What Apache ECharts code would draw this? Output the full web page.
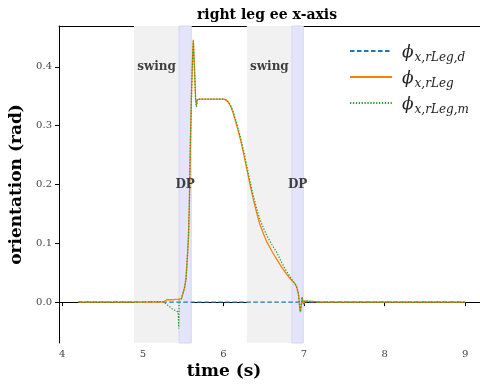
<!DOCTYPE html>
<html><head><meta charset="utf-8">
<script src="https://cdn.jsdelivr.net/npm/echarts@6/dist/echarts.min.js"></script>
<style>html,body{margin:0;padding:0;background:#fff}#c{width:480px;height:389px}</style>
</head><body><div id="c"></div>
<script>
// time stamps (s)
const time = [4.2, 5.0, 5.1, 5.25, 5.3, 5.36, 5.44, 5.445, 5.45, 5.48, 5.5, 5.52, 5.535, 5.55, 5.565, 5.577, 5.59, 5.605, 5.618, 5.626, 5.64, 5.655, 5.665, 5.675, 5.7, 5.8, 6.0, 6.03, 6.06, 6.09, 6.12, 6.15, 6.18, 6.21, 6.25, 6.29, 6.33, 6.37, 6.41, 6.45, 6.5, 6.54, 6.6, 6.66, 6.72, 6.78, 6.84, 6.89, 6.91, 6.93, 6.945, 6.955, 6.965, 6.975, 6.985, 6.995, 7.01, 7.03, 7.2, 8.0, 9.0];
// desired orientation
const desired = time.map(() => 0);
// actual orientation
const actual = [0, 0, 0, 0, 0.004, 0.004, 0.005, 0.005, 0.005, 0.006, 0.016, 0.026, 0.039, 0.07, 0.107, 0.164, 0.27, 0.36, 0.42, 0.446, 0.40, 0.345, 0.335, 0.344, 0.345, 0.345, 0.345, 0.344, 0.34, 0.333, 0.322, 0.308, 0.293, 0.277, 0.253, 0.226, 0.2, 0.175, 0.153, 0.133, 0.115, 0.102, 0.087, 0.073, 0.06, 0.048, 0.038, 0.031, 0.025, 0.015, -0.008, -0.017, -0.006, 0.008, 0.002, -0.004, 0.002, 0, 0, 0, 0];
// measured orientation
const measured = [0, 0, 0.001, 0.001, -0.004, -0.011, -0.017, -0.045, 0.004, 0.006, 0.016, 0.026, 0.039, 0.07, 0.107, 0.164, 0.27, 0.36, 0.42, 0.444, 0.40, 0.345, 0.332, 0.344, 0.345, 0.345, 0.345, 0.344, 0.341, 0.334, 0.324, 0.311, 0.297, 0.281, 0.258, 0.231, 0.205, 0.181, 0.16, 0.141, 0.125, 0.113, 0.098, 0.085, 0.068, 0.053, 0.04, 0.031, 0.025, 0.014, -0.006, -0.016, -0.004, 0.009, 0.001, -0.003, 0.002, 0, 0, 0, 0];
// phases: [start, end]
const swingPhases = [[4.89, 5.45], [6.29, 6.85]];
const dpPhases = [[5.45, 5.6], [6.85, 6.99]];
// phase labels: [x, y, text]
const phaseLabels = [[5.17, 0.4, 'swing'], [6.57, 0.4, 'swing'], [5.525, 0.2, 'DP'], [6.92, 0.2, 'DP']];
const xTicks = [4, 5, 6, 7, 8, 9];
const yTicks = [0, 0.1, 0.2, 0.3, 0.4];

const zip = (a, b) => a.map((v, i) => [v, b[i]]);
const serif = 'DejaVu Serif';
const legendNames = {
  d: '{a|ϕ}{b|x,rLeg,d}',
  a: '{a|ϕ}{b|x,rLeg}',
  m: '{a|ϕ}{b|x,rLeg,m}'
};
const XMIN = 3.96, XMAX = 9.183;

const chart = echarts.init(document.getElementById('c'));
chart.setOption({
  animation: false,
  title: {
    text: 'right leg ee x-axis', left: 262, top: 3, textAlign: 'center',
    textStyle: { fontFamily: serif, fontWeight: 'bold', fontSize: 14, color: '#000' }
  },
  grid: { left: 59, right: 0, top: 26, bottom: 46 },
  legend: {
    orient: 'vertical', left: 344, top: 39, itemWidth: 42, itemHeight: 14, itemGap: 6,
    data: ['d', 'a', 'm'],
    itemStyle: { opacity: 0 },
    formatter: n => legendNames[n],
    textStyle: {
      color: '#222', padding: [0, 0, 0, 5],
      rich: {
        a: { fontFamily: serif, fontStyle: 'italic', fontSize: 17, color: '#222', lineHeight: 20, verticalAlign: 'bottom' },
        b: { fontFamily: serif, fontStyle: 'italic', fontSize: 12, color: '#222', lineHeight: 14, verticalAlign: 'bottom', padding: [0, 0, -3, 1] }
      }
    }
  },
  xAxis: [{
    type: 'value', min: XMIN, max: XMAX,
    splitLine: { show: false },
    axisLine: { show: true, lineStyle: { color: '#000', width: 1 } },
    axisTick: { show: true, customValues: xTicks, length: 4, lineStyle: { color: '#000' } },
    axisLabel: { customValues: xTicks, fontFamily: serif, fontSize: 10, color: '#444', margin: 6 }
  }, {
    type: 'value', position: 'top', min: XMIN, max: XMAX,
    splitLine: { show: false },
    axisLine: { show: true, lineStyle: { color: '#000', width: 1 } },
    axisTick: { show: false }, axisLabel: { show: false }
  }],
  yAxis: {
    type: 'value', min: -0.0695, max: 0.4695,
    name: 'orientation (rad)', nameLocation: 'middle', nameGap: 32, nameRotate: 90,
    nameTextStyle: { fontFamily: serif, fontWeight: 'bold', fontSize: 17, color: '#000' },
    splitLine: { show: false },
    axisLine: { show: true, lineStyle: { color: '#000', width: 1 } },
    axisTick: { show: true, customValues: yTicks, length: 4, lineStyle: { color: '#000' } },
    axisLabel: { customValues: yTicks, fontFamily: serif, fontSize: 10, color: '#444', margin: 7, formatter: v => v.toFixed(1) }
  },
  graphic: [{
    type: 'text', x: 224, y: 363,
    style: { text: 'time (s)', font: 'bold 17px "DejaVu Serif"', fill: '#000', textAlign: 'center' }
  }],
  series: [
    {
      name: 'areas', type: 'line', data: [[4.2, 0]], symbol: 'none', lineStyle: { opacity: 0 }, z: 1, silent: true,
      markArea: {
        silent: true,
        data: swingPhases.map(p => [{ xAxis: p[0], itemStyle: { color: '#f1f1f1' } }, { xAxis: p[1] }])
          .concat(dpPhases.map(p => [{ xAxis: p[0], itemStyle: { color: '#e4e4fa', borderColor: '#d6d6f4', borderWidth: 1 } }, { xAxis: p[1] }]))
      }
    },
    { name: 'd', type: 'line', data: zip(time, desired), symbol: 'none', z: 3, color: '#1f77b4', lineStyle: { width: 1.3, type: [4.5, 2.5], color: '#1f77b4' } },
    { name: 'a', type: 'line', data: zip(time, actual), symbol: 'none', z: 4, color: '#ff7f0e', lineStyle: { width: 1.3, color: '#ff7f0e' } },
    { name: 'm', type: 'line', data: zip(time, measured), symbol: 'none', z: 5, color: '#2ca02c', lineStyle: { width: 1.3, type: [1.3, 1.6], color: '#2ca02c' } },
    {
      name: 'labels', type: 'scatter', symbolSize: 0, z: 6, silent: true,
      data: phaseLabels.map(l => ({ value: [l[0], l[1]], name: l[2] })),
      label: { show: true, position: 'inside', formatter: p => p.name, fontFamily: serif, fontWeight: 'bold', fontSize: 12, color: '#111' }
    }
  ]
});
</script></body></html>
